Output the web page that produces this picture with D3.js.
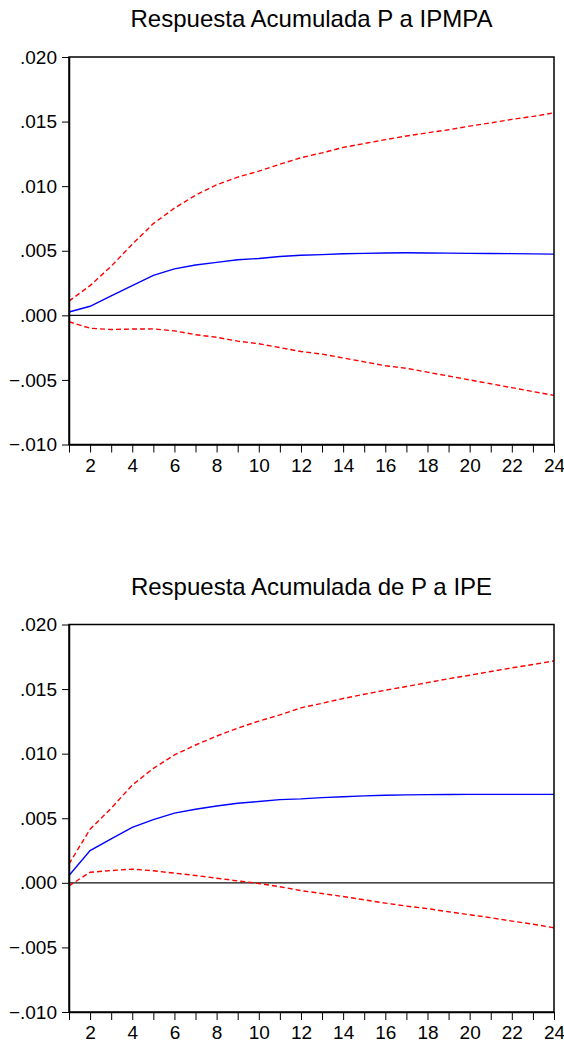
<!DOCTYPE html>
<meta charset="utf-8">
<style>
    body {
        margin: 0;
        background-color: #ffffff;
    }

    text {
        font-family: "Liberation Sans", Arial, sans-serif;
        fill: #000;
    }

    .tick line,
    .domain {
        stroke: #000;
    }
</style>

<body>
    <script src="https://d3js.org/d3.v7.min.js"></script>

    <script>
        var width = 564,
            height = 1042;

        // horizons 1..24
        const periods = d3.range(1, 25)
        const yTicks = [-0.010, -0.005, 0.000, 0.005, 0.010, 0.015, 0.020]

        // Respuesta Acumulada P a IPMPA
        const ipmpaTitle = "Respuesta Acumulada P a IPMPA"
        const ipmpaResp = [0.00026, 0.0007, 0.0015, 0.0023, 0.0031, 0.0036, 0.0039, 0.0041, 0.0043, 0.0044,
            0.00456, 0.00465, 0.0047, 0.00477, 0.0048, 0.00483, 0.00484, 0.00483, 0.00482, 0.0048,
            0.00479, 0.00478, 0.00476, 0.00474]
        const ipmpaUpper = [0.0011, 0.0023, 0.0038, 0.0055, 0.0071, 0.0083, 0.0093, 0.0101, 0.0107, 0.01116,
            0.0117, 0.0122, 0.01258, 0.0130, 0.0133, 0.0136, 0.01388, 0.01413, 0.01437, 0.01465,
            0.0149, 0.01517, 0.0154, 0.01568]
        const ipmpaLower = [-0.0005, -0.001, -0.0011, -0.00106, -0.00105, -0.0012, -0.0015, -0.0017, -0.002, -0.0022,
            -0.0025, -0.0028, -0.0030, -0.0033, -0.0036, -0.0039, -0.0041, -0.0044, -0.0047, -0.0050,
            -0.0053, -0.0056, -0.0059, -0.0062]

        // Respuesta Acumulada de P a IPE
        const ipeTitle = "Respuesta Acumulada de P a IPE"
        const ipeResp = [0.00057, 0.0025, 0.0034, 0.0043, 0.0049, 0.0054, 0.0057, 0.00595, 0.00616, 0.0063,
            0.00644, 0.0065, 0.0066, 0.00667, 0.00673, 0.00678, 0.00681, 0.00683, 0.00684, 0.00685,
            0.00685, 0.00685, 0.00685, 0.00685]
        const ipeUpper = [0.00147, 0.00415, 0.00577, 0.00757, 0.00886, 0.0099, 0.01067, 0.01136, 0.01198, 0.01252,
            0.013, 0.01355, 0.0139, 0.01427, 0.0146, 0.01491, 0.0152, 0.0155, 0.0158, 0.01607,
            0.01636, 0.01664, 0.0169, 0.01718]
        const ipeLower = [-0.00023, 0.00082, 0.00095, 0.00106, 0.00093, 0.00075, 0.00057, 0.00036, 0.00015, -0.00005,
            -0.0003, -0.0006, -0.00083, -0.00106, -0.00132, -0.00157, -0.0018, -0.002, -0.00224, -0.00247,
            -0.0027, -0.00296, -0.0032, -0.00348]

        var svg = d3.select("body").append("svg")
            .attr("width", width)
            .attr("height", height)

        function fmtY(v) {
            return d3.format(".3f")(v).replace("0.", ".")
        }

        function drawPanel(top, title, resp, upper, lower) {
            var left = 69, right = 554, plotH = 387.5

            var g = svg.append("g")

            var x = d3.scaleLinear().domain([1, 24]).range([left, right])
            var y = d3.scaleLinear().domain([-0.010, 0.020]).range([top + plotH, top])

            g.append("text")
                .attr("x", (left + right) / 2)
                .attr("y", top - 30)
                .attr("text-anchor", "middle")
                .style("font-size", "24px")
                .text(title)

            // zero line
            g.append("line")
                .attr("x1", left).attr("x2", right)
                .attr("y1", y(0)).attr("y2", y(0))
                .attr("stroke", "#111")
                .attr("stroke-width", 1.2)

            var line = d3.line()
                .x((d, i) => x(periods[i]))
                .y(d => y(d))

            g.append("path")
                .datum(upper)
                .attr("d", line)
                .attr("fill", "none")
                .attr("stroke", "#ff0000")
                .attr("stroke-width", 1.4)
                .attr("stroke-dasharray", "5,3")

            g.append("path")
                .datum(lower)
                .attr("d", line)
                .attr("fill", "none")
                .attr("stroke", "#ff0000")
                .attr("stroke-width", 1.4)
                .attr("stroke-dasharray", "5,3")

            g.append("path")
                .datum(resp)
                .attr("d", line)
                .attr("fill", "none")
                .attr("stroke", "#0000ff")
                .attr("stroke-width", 1.4)

            // frame
            g.append("rect")
                .attr("x", left).attr("y", top)
                .attr("width", right - left).attr("height", plotH)
                .attr("fill", "none")
                .attr("stroke", "#000")
                .attr("stroke-width", 1.5)

            var yAxis = g.append("g")
                .attr("transform", "translate(" + left + ",0)")
                .call(d3.axisLeft(y).tickValues(yTicks).tickFormat(fmtY).tickSize(7).tickPadding(5).tickSizeOuter(0))
            yAxis.selectAll("text").style("font-size", "19px")
            yAxis.select(".domain").attr("stroke-width", 1.5)

            var xAxis = g.append("g")
                .attr("transform", "translate(0," + (top + plotH) + ")")
                .call(d3.axisBottom(x).tickValues(periods)
                    .tickFormat(d => d % 2 == 0 ? d : "")
                    .tickSize(8).tickPadding(6).tickSizeOuter(0))
            xAxis.selectAll("text").style("font-size", "19px")
            xAxis.select(".domain").attr("stroke-width", 1.5)
        }

        drawPanel(57, ipmpaTitle, ipmpaResp, ipmpaUpper, ipmpaLower)
        drawPanel(624.5, ipeTitle, ipeResp, ipeUpper, ipeLower)

    </script>
</body>

</html>
